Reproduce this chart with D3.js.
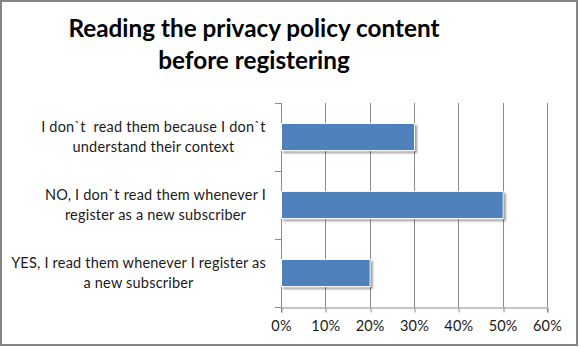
<!DOCTYPE html>
<html><head><meta charset="utf-8">
<script src="https://cdn.jsdelivr.net/npm/d3@7"></script>
<style>html,body{margin:0;padding:0;background:#fff;}svg{display:block;} text{white-space:pre;}</style>
</head><body>
<svg id="chart" width="580" height="347"></svg>
<script>
const titleLines = ["Reading the privacy policy content", "before registering"];
const categories = [
  ["I don`t  read them because I don`t", "understand their context"],
  ["NO, I don`t read them whenever I", "register as a new subscriber"],
  ["YES, I read them whenever I register as", "a new subscriber"]
];
const values = [0.30, 0.50, 0.20];
const xTicks = [0, 0.1, 0.2, 0.3, 0.4, 0.5, 0.6];

const font = "Lato, 'Open Sans', sans-serif";

function draw() {
const svg = d3.select("#chart");
svg.selectAll("*").remove();
const m = {left: 281, right: 547, top: 103, bottom: 307};

svg.append("rect").attr("x", 1).attr("y", 1).attr("width", 576).attr("height", 344)
  .attr("fill", "#fff").attr("stroke", "#858585").attr("stroke-width", 2);

const defs = svg.append("defs");
const f = defs.append("filter").attr("id", "shadow").attr("x", "-10%").attr("y", "-30%").attr("width", "120%").attr("height", "170%");
f.append("feGaussianBlur").attr("in", "SourceAlpha").attr("stdDeviation", 1.2).attr("result", "b");
f.append("feOffset").attr("in", "b").attr("dx", 1.5).attr("dy", 1.5).attr("result", "o");
f.append("feComponentTransfer").attr("in", "o").attr("result", "s")
  .append("feFuncA").attr("type", "linear").attr("slope", 0.4);
const fm = f.append("feMerge");
fm.append("feMergeNode").attr("in", "s");
fm.append("feMergeNode").attr("in", "SourceGraphic");

const x = d3.scaleLinear().domain([0, 0.6]).range([m.left, m.right]);
const y = d3.scaleBand().domain(d3.range(categories.length)).range([m.top, m.bottom]).paddingInner(0.6).paddingOuter(0.3);
const yb = d3.scaleBand().domain(d3.range(categories.length)).range([m.top, m.bottom]);

svg.append("g").selectAll("line").data(xTicks.slice(1)).join("line")
  .attr("x1", d => Math.round(x(d)) + 0.5).attr("x2", d => Math.round(x(d)) + 0.5)
  .attr("y1", m.top).attr("y2", m.bottom)
  .attr("stroke", "#8a8a8a").attr("stroke-width", 1);

const xAxis = d3.axisBottom(x).tickValues(xTicks).tickFormat(d3.format(".0%")).tickSize(5).tickPadding(8);
const gx = svg.append("g").attr("transform", `translate(0,${m.bottom + 0.5})`).call(xAxis);
gx.select(".domain").attr("stroke", "#8a8a8a");
gx.selectAll(".tick line").attr("stroke", "#8a8a8a").attr("transform", function(d){ const p = x(d); return `translate(${Math.round(p) + 0.5 - p},0)`; });
gx.selectAll("text").attr("font-family", font).attr("font-size", 14.5).attr("letter-spacing", 0.2).attr("fill", "#1a1a1a");

const boundaries = d3.range(categories.length + 1).map(i => i === categories.length ? m.bottom : yb(i));
svg.append("line").attr("x1", m.left + 0.5).attr("x2", m.left + 0.5).attr("y1", m.top).attr("y2", m.bottom)
  .attr("stroke", "#8a8a8a");
svg.append("g").selectAll("line").data(boundaries).join("line")
  .attr("x1", m.left - 6).attr("x2", m.left + 0.5)
  .attr("y1", d => Math.round(d) + 0.5).attr("y2", d => Math.round(d) + 0.5)
  .attr("stroke", "#8a8a8a");

svg.append("g").selectAll("rect").data(values).join("rect")
  .attr("x", x(0) + 0.5).attr("y", (d, i) => y(i))
  .attr("width", d => x(d) - x(0)).attr("height", y.bandwidth())
  .attr("fill", "#4f81bd").attr("stroke", "#fff").attr("stroke-width", 1)
  .attr("filter", "url(#shadow)");

const labelRight = 266;
categories.forEach((lines, i) => {
  const cy = yb(i) + yb.bandwidth() / 2;
  const g = svg.append("g");
  const texts = g.selectAll("text").data(lines).join("text")
    .attr("font-family", font).attr("font-size", 14.5).attr("letter-spacing", 0.2).attr("fill", "#1a1a1a")
    .attr("text-anchor", "middle")
    .attr("y", (d, j) => cy + (j - (lines.length - 1) / 2) * 20 + 5)
    .text(d => d);
  let maxW = 0;
  texts.each(function(){ maxW = Math.max(maxW, this.getBBox().width); });
  texts.attr("x", labelRight - maxW / 2);
});

svg.append("g").selectAll("text").data(titleLines).join("text")
  .attr("x", 254).attr("y", (d, i) => 37 + i * 31.5)
  .attr("text-anchor", "middle").attr("font-family", font)
  .attr("font-weight", "bold").attr("font-size", 24.3).attr("fill", "#000")
  .text(d => d);
}

draw();
Promise.all([document.fonts.load("14.5px Lato"), document.fonts.load("bold 24px Lato")])
  .then(() => document.fonts.ready).then(draw);
</script>
</body></html>
